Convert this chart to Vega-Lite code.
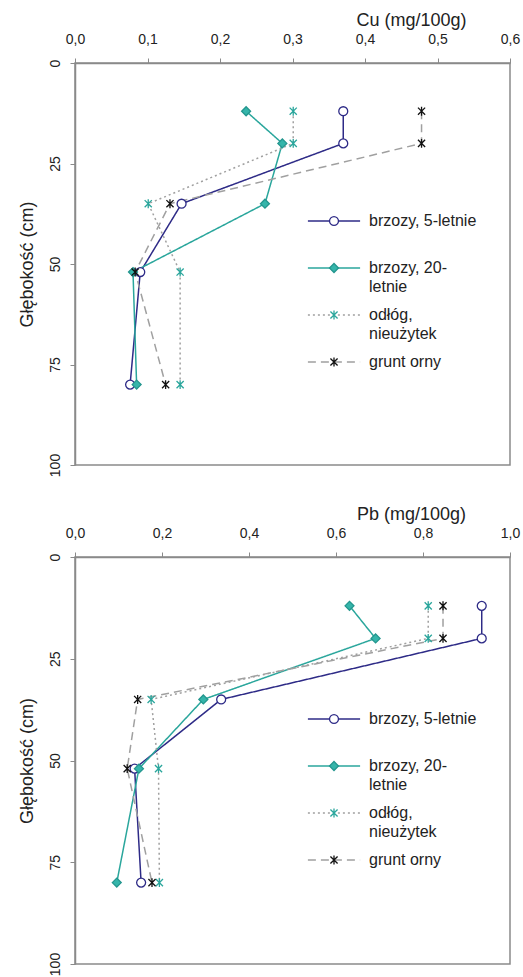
{
  "$schema": "https://vega.github.io/schema/vega-lite/v6.json",
  "background": "white",
  "padding": {"left": 17, "top": 10, "right": 4, "bottom": 4},
  "data": {"values": [
    {"metal": "Cu", "series": "brzozy, 5-letnie", "depth": 12, "value": 0.370},
    {"metal": "Cu", "series": "brzozy, 5-letnie", "depth": 20, "value": 0.370},
    {"metal": "Cu", "series": "brzozy, 5-letnie", "depth": 35, "value": 0.147},
    {"metal": "Cu", "series": "brzozy, 5-letnie", "depth": 52, "value": 0.090},
    {"metal": "Cu", "series": "brzozy, 5-letnie", "depth": 80, "value": 0.076},
    {"metal": "Cu", "series": "brzozy, 20-letnie", "depth": 12, "value": 0.236},
    {"metal": "Cu", "series": "brzozy, 20-letnie", "depth": 20, "value": 0.286},
    {"metal": "Cu", "series": "brzozy, 20-letnie", "depth": 35, "value": 0.262},
    {"metal": "Cu", "series": "brzozy, 20-letnie", "depth": 52, "value": 0.080},
    {"metal": "Cu", "series": "brzozy, 20-letnie", "depth": 80, "value": 0.085},
    {"metal": "Cu", "series": "odłóg, nieużytek", "depth": 12, "value": 0.301},
    {"metal": "Cu", "series": "odłóg, nieużytek", "depth": 20, "value": 0.301},
    {"metal": "Cu", "series": "odłóg, nieużytek", "depth": 35, "value": 0.101},
    {"metal": "Cu", "series": "odłóg, nieużytek", "depth": 52, "value": 0.145},
    {"metal": "Cu", "series": "odłóg, nieużytek", "depth": 80, "value": 0.145},
    {"metal": "Cu", "series": "grunt orny", "depth": 12, "value": 0.478},
    {"metal": "Cu", "series": "grunt orny", "depth": 20, "value": 0.478},
    {"metal": "Cu", "series": "grunt orny", "depth": 35, "value": 0.131},
    {"metal": "Cu", "series": "grunt orny", "depth": 52, "value": 0.083},
    {"metal": "Cu", "series": "grunt orny", "depth": 80, "value": 0.125},
    {"metal": "Pb", "series": "brzozy, 5-letnie", "depth": 12, "value": 0.935},
    {"metal": "Pb", "series": "brzozy, 5-letnie", "depth": 20, "value": 0.935},
    {"metal": "Pb", "series": "brzozy, 5-letnie", "depth": 35, "value": 0.336},
    {"metal": "Pb", "series": "brzozy, 5-letnie", "depth": 52, "value": 0.137},
    {"metal": "Pb", "series": "brzozy, 5-letnie", "depth": 80, "value": 0.152},
    {"metal": "Pb", "series": "brzozy, 20-letnie", "depth": 12, "value": 0.631},
    {"metal": "Pb", "series": "brzozy, 20-letnie", "depth": 20, "value": 0.691},
    {"metal": "Pb", "series": "brzozy, 20-letnie", "depth": 35, "value": 0.295},
    {"metal": "Pb", "series": "brzozy, 20-letnie", "depth": 52, "value": 0.147},
    {"metal": "Pb", "series": "brzozy, 20-letnie", "depth": 80, "value": 0.096},
    {"metal": "Pb", "series": "odłóg, nieużytek", "depth": 12, "value": 0.812},
    {"metal": "Pb", "series": "odłóg, nieużytek", "depth": 20, "value": 0.812},
    {"metal": "Pb", "series": "odłóg, nieużytek", "depth": 35, "value": 0.175},
    {"metal": "Pb", "series": "odłóg, nieużytek", "depth": 52, "value": 0.192},
    {"metal": "Pb", "series": "odłóg, nieużytek", "depth": 80, "value": 0.194},
    {"metal": "Pb", "series": "grunt orny", "depth": 12, "value": 0.846},
    {"metal": "Pb", "series": "grunt orny", "depth": 20, "value": 0.846},
    {"metal": "Pb", "series": "grunt orny", "depth": 35, "value": 0.144},
    {"metal": "Pb", "series": "grunt orny", "depth": 52, "value": 0.120},
    {"metal": "Pb", "series": "grunt orny", "depth": 80, "value": 0.177}
  ]},
  "config": {
    "font": "Liberation Sans",
    "axis": {"labelFont": "Liberation Sans", "titleFont": "Liberation Sans", "labelColor": "#222222", "titleColor": "#222222", "domainColor": "#8a8a8a", "tickColor": "#8a8a8a", "domainWidth": 1.5, "tickWidth": 1, "grid": false, "titleFontWeight": "normal", "labelFlush": false, "labelOverlap": false, "labelBound": false},
    "view": {"stroke": "#8a8a8a", "strokeWidth": 1.5},
    "legend": {"labelFont": "Liberation Sans", "labelColor": "#222222"}
  },
  "spacing": 26,
  "vconcat": [
    {
      "width": 435, "height": 402,
      "transform": [{"filter": "datum.metal === 'Cu'"}],
      "encoding": {
        "x": {"field": "value", "type": "quantitative", "scale": {"domain": [0, 0.6], "nice": false}, "axis": {"orient": "top", "values": [0, 0.1, 0.2, 0.3, 0.4, 0.5, 0.6], "labelExpr": "replace(format(datum.value, '.1f'), '.', ',')", "labelFontSize": 14, "tickSize": 5, "labelPadding": 12, "title": "Cu (mg/100g)", "titleFontSize": 18, "titleX": 336, "titleY": -38, "titleAlign": "center", "titleBaseline": "alphabetic"}},
        "y": {"field": "depth", "type": "quantitative", "scale": {"domain": [0, 100], "reverse": true, "nice": false}, "axis": {"values": [0, 25, 50, 75, 100], "labelAngle": -90, "labelAlign": "center", "labelBaseline": "bottom", "labelFontSize": 14, "tickSize": 5, "labelPadding": 8, "title": "Głębokość (cm)", "titleFontSize": 18, "titlePadding": 12}}
      },
      "layer": [
        {
          "mark": {"type": "line", "strokeWidth": 1.5},
          "encoding": {
            "stroke": {"field": "series", "type": "nominal", "scale": {"domain": ["brzozy, 5-letnie", "brzozy, 20-letnie", "odłóg, nieużytek", "grunt orny"], "range": ["#2e2b87", "#2aa69c", "#a0a0a0", "#a0a0a0"]}, "legend": {"orient": "none", "legendX": 251, "legendY": 150, "title": null, "symbolType": "M-5.8,0H5.8", "symbolSize": 81, "symbolStrokeWidth": 1.5, "labelFontSize": 16, "labelOffset": 27, "labelLimit": 0, "padding": 0, "rowPadding": 12, "labelBaseline": "top", "labelExpr": "datum.label === 'brzozy, 20-letnie' ? ['brzozy, 20-', 'letnie'] : datum.label === 'odłóg, nieużytek' ? ['odłóg,', 'nieużytek'] : [datum.label, '']", "encoding": {"labels": {"dy": {"value": -8}, "lineHeight": {"value": 19}}}}},
            "strokeDash": {"field": "series", "type": "nominal", "scale": {"domain": ["brzozy, 5-letnie", "brzozy, 20-letnie", "odłóg, nieużytek", "grunt orny"], "range": [[1, 0], [1, 0], [2, 3], [8, 5]]}, "legend": {"orient": "none", "legendX": 251, "legendY": 150, "title": null, "symbolType": "M-5.8,0H5.8", "symbolSize": 81, "symbolStrokeWidth": 1.5, "labelFontSize": 16, "labelOffset": 27, "labelLimit": 0, "padding": 0, "rowPadding": 12, "labelBaseline": "top", "labelExpr": "datum.label === 'brzozy, 20-letnie' ? ['brzozy, 20-', 'letnie'] : datum.label === 'odłóg, nieużytek' ? ['odłóg,', 'nieużytek'] : [datum.label, '']", "encoding": {"labels": {"dy": {"value": -8}, "lineHeight": {"value": 19}}}}},
            "order": {"field": "depth", "type": "quantitative"}
          }
        },
        {
          "mark": {"type": "point", "size": 80, "strokeWidth": 1.3, "opacity": 1},
          "encoding": {
            "shape": {"field": "series", "type": "nominal", "scale": {"domain": ["brzozy, 5-letnie", "brzozy, 20-letnie", "odłóg, nieużytek", "grunt orny"], "range": ["circle", "diamond", "M0,-1V1M-0.8,-0.8L0.8,0.8M-0.8,0.8L0.8,-0.8", "M0,-1V1M-0.8,-0.8L0.8,0.8M-0.8,0.8L0.8,-0.8"]}, "legend": {"orient": "none", "legendX": 251, "legendY": 150, "title": null, "symbolSize": 80, "symbolStrokeWidth": 1.3, "labelFontSize": 16, "labelOffset": 27, "labelLimit": 0, "padding": 0, "rowPadding": 12, "labelColor": "transparent", "labelBaseline": "top", "labelExpr": "datum.label === 'brzozy, 20-letnie' ? ['brzozy, 20-', 'letnie'] : datum.label === 'odłóg, nieużytek' ? ['odłóg,', 'nieużytek'] : [datum.label, '']", "encoding": {"labels": {"dy": {"value": -8}, "lineHeight": {"value": 19}}}}},
            "fill": {"field": "series", "type": "nominal", "scale": {"domain": ["brzozy, 5-letnie", "brzozy, 20-letnie", "odłóg, nieużytek", "grunt orny"], "range": ["#ffffff", "#35b5aa", "transparent", "transparent"]}, "legend": {"orient": "none", "legendX": 251, "legendY": 150, "title": null, "symbolSize": 80, "symbolStrokeWidth": 1.3, "labelFontSize": 16, "labelOffset": 27, "labelLimit": 0, "padding": 0, "rowPadding": 12, "labelColor": "transparent", "labelBaseline": "top", "labelExpr": "datum.label === 'brzozy, 20-letnie' ? ['brzozy, 20-', 'letnie'] : datum.label === 'odłóg, nieużytek' ? ['odłóg,', 'nieużytek'] : [datum.label, '']", "encoding": {"labels": {"dy": {"value": -8}, "lineHeight": {"value": 19}}}}},
            "stroke": {"field": "series", "type": "nominal", "scale": {"domain": ["brzozy, 5-letnie", "brzozy, 20-letnie", "odłóg, nieużytek", "grunt orny"], "range": ["#2e2b87", "#23968e", "#2aa69c", "#111111"]}, "legend": {"orient": "none", "legendX": 251, "legendY": 150, "title": null, "symbolSize": 80, "symbolStrokeWidth": 1.3, "labelFontSize": 16, "labelOffset": 27, "labelLimit": 0, "padding": 0, "rowPadding": 12, "labelColor": "transparent", "labelBaseline": "top", "labelExpr": "datum.label === 'brzozy, 20-letnie' ? ['brzozy, 20-', 'letnie'] : datum.label === 'odłóg, nieużytek' ? ['odłóg,', 'nieużytek'] : [datum.label, '']", "encoding": {"labels": {"dy": {"value": -8}, "lineHeight": {"value": 19}}}}}
          }
        }
      ],
      "resolve": {"scale": {"stroke": "independent"}, "legend": {"stroke": "independent", "strokeDash": "independent", "shape": "independent", "fill": "independent"}}
    },
    {
      "width": 435, "height": 407,
      "transform": [{"filter": "datum.metal === 'Pb'"}],
      "encoding": {
        "x": {"field": "value", "type": "quantitative", "scale": {"domain": [0, 1.0], "nice": false}, "axis": {"orient": "top", "values": [0, 0.2, 0.4, 0.6, 0.8, 1.0], "labelExpr": "replace(format(datum.value, '.1f'), '.', ',')", "labelFontSize": 14, "tickSize": 5, "labelPadding": 12, "title": "Pb (mg/100g)", "titleFontSize": 18, "titleX": 336, "titleY": -38, "titleAlign": "center", "titleBaseline": "alphabetic"}},
        "y": {"field": "depth", "type": "quantitative", "scale": {"domain": [0, 100], "reverse": true, "nice": false}, "axis": {"values": [0, 25, 50, 75, 100], "labelAngle": -90, "labelAlign": "center", "labelBaseline": "bottom", "labelFontSize": 14, "tickSize": 5, "labelPadding": 8, "title": "Głębokość (cm)", "titleFontSize": 18, "titlePadding": 12}}
      },
      "layer": [
        {
          "mark": {"type": "line", "strokeWidth": 1.5},
          "encoding": {
            "stroke": {"field": "series", "type": "nominal", "scale": {"domain": ["brzozy, 5-letnie", "brzozy, 20-letnie", "odłóg, nieużytek", "grunt orny"], "range": ["#2e2b87", "#2aa69c", "#a0a0a0", "#a0a0a0"]}, "legend": {"orient": "none", "legendX": 251, "legendY": 154, "title": null, "symbolType": "M-5.8,0H5.8", "symbolSize": 81, "symbolStrokeWidth": 1.5, "labelFontSize": 16, "labelOffset": 27, "labelLimit": 0, "padding": 0, "rowPadding": 12, "labelBaseline": "top", "labelExpr": "datum.label === 'brzozy, 20-letnie' ? ['brzozy, 20-', 'letnie'] : datum.label === 'odłóg, nieużytek' ? ['odłóg,', 'nieużytek'] : [datum.label, '']", "encoding": {"labels": {"dy": {"value": -8}, "lineHeight": {"value": 19}}}}},
            "strokeDash": {"field": "series", "type": "nominal", "scale": {"domain": ["brzozy, 5-letnie", "brzozy, 20-letnie", "odłóg, nieużytek", "grunt orny"], "range": [[1, 0], [1, 0], [2, 3], [8, 5]]}, "legend": {"orient": "none", "legendX": 251, "legendY": 154, "title": null, "symbolType": "M-5.8,0H5.8", "symbolSize": 81, "symbolStrokeWidth": 1.5, "labelFontSize": 16, "labelOffset": 27, "labelLimit": 0, "padding": 0, "rowPadding": 12, "labelBaseline": "top", "labelExpr": "datum.label === 'brzozy, 20-letnie' ? ['brzozy, 20-', 'letnie'] : datum.label === 'odłóg, nieużytek' ? ['odłóg,', 'nieużytek'] : [datum.label, '']", "encoding": {"labels": {"dy": {"value": -8}, "lineHeight": {"value": 19}}}}},
            "order": {"field": "depth", "type": "quantitative"}
          }
        },
        {
          "mark": {"type": "point", "size": 80, "strokeWidth": 1.3, "opacity": 1},
          "encoding": {
            "shape": {"field": "series", "type": "nominal", "scale": {"domain": ["brzozy, 5-letnie", "brzozy, 20-letnie", "odłóg, nieużytek", "grunt orny"], "range": ["circle", "diamond", "M0,-1V1M-0.8,-0.8L0.8,0.8M-0.8,0.8L0.8,-0.8", "M0,-1V1M-0.8,-0.8L0.8,0.8M-0.8,0.8L0.8,-0.8"]}, "legend": {"orient": "none", "legendX": 251, "legendY": 154, "title": null, "symbolSize": 80, "symbolStrokeWidth": 1.3, "labelFontSize": 16, "labelOffset": 27, "labelLimit": 0, "padding": 0, "rowPadding": 12, "labelColor": "transparent", "labelBaseline": "top", "labelExpr": "datum.label === 'brzozy, 20-letnie' ? ['brzozy, 20-', 'letnie'] : datum.label === 'odłóg, nieużytek' ? ['odłóg,', 'nieużytek'] : [datum.label, '']", "encoding": {"labels": {"dy": {"value": -8}, "lineHeight": {"value": 19}}}}},
            "fill": {"field": "series", "type": "nominal", "scale": {"domain": ["brzozy, 5-letnie", "brzozy, 20-letnie", "odłóg, nieużytek", "grunt orny"], "range": ["#ffffff", "#35b5aa", "transparent", "transparent"]}, "legend": {"orient": "none", "legendX": 251, "legendY": 154, "title": null, "symbolSize": 80, "symbolStrokeWidth": 1.3, "labelFontSize": 16, "labelOffset": 27, "labelLimit": 0, "padding": 0, "rowPadding": 12, "labelColor": "transparent", "labelBaseline": "top", "labelExpr": "datum.label === 'brzozy, 20-letnie' ? ['brzozy, 20-', 'letnie'] : datum.label === 'odłóg, nieużytek' ? ['odłóg,', 'nieużytek'] : [datum.label, '']", "encoding": {"labels": {"dy": {"value": -8}, "lineHeight": {"value": 19}}}}},
            "stroke": {"field": "series", "type": "nominal", "scale": {"domain": ["brzozy, 5-letnie", "brzozy, 20-letnie", "odłóg, nieużytek", "grunt orny"], "range": ["#2e2b87", "#23968e", "#2aa69c", "#111111"]}, "legend": {"orient": "none", "legendX": 251, "legendY": 154, "title": null, "symbolSize": 80, "symbolStrokeWidth": 1.3, "labelFontSize": 16, "labelOffset": 27, "labelLimit": 0, "padding": 0, "rowPadding": 12, "labelColor": "transparent", "labelBaseline": "top", "labelExpr": "datum.label === 'brzozy, 20-letnie' ? ['brzozy, 20-', 'letnie'] : datum.label === 'odłóg, nieużytek' ? ['odłóg,', 'nieużytek'] : [datum.label, '']", "encoding": {"labels": {"dy": {"value": -8}, "lineHeight": {"value": 19}}}}}
          }
        }
      ],
      "resolve": {"scale": {"stroke": "independent"}, "legend": {"stroke": "independent", "strokeDash": "independent", "shape": "independent", "fill": "independent"}}
    }
  ]
}
